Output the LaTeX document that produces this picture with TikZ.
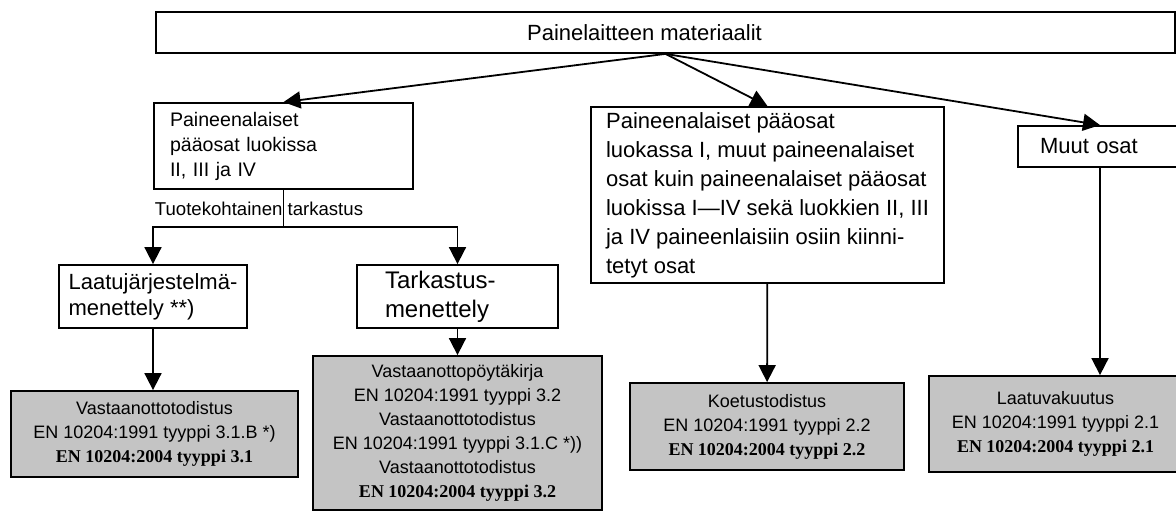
\documentclass[tikz,border=0pt]{standalone}
\usepackage{fontspec}
\setmainfont{Liberation Sans}
\newfontfamily\timesfont{Liberation Serif}
\usetikzlibrary{arrows.meta}
\definecolor{certgrey}{RGB}{196,196,196}
\newcommand{\ENnew}[1]{{\timesfont\bfseries EN 10204:2004 tyyppi #1}}

\tikzset{
  plainbox/.style={draw, line width=0.9pt, inner ysep=0pt},
  certbox/.style={plainbox, fill=certgrey, align=center, font=\fontsize{9}{12}\selectfont},
  arr/.style={line width=0.9pt, -{Triangle[length=8.5pt,width=8.5pt]}},
}

\begin{document}
\begin{tikzpicture}[x=0.5pt,y=-0.5pt]
            \useasboundingbox (0,0) rectangle (1176,522);
            % laatikot
            \node[plainbox, minimum width=509.5pt, minimum height=20.5pt, font=\fontsize{11}{13}\selectfont] (top) at (665.5,32.5) {Painelaitteen materiaalit\hspace*{21pt}};
            \node[plainbox, text width=113.5pt, inner xsep=8pt, minimum height=43pt, align=left, font=\fontsize{9.8}{12.5}\selectfont] (paaosat) at (283.5,146) {Paineenalaiset\\pääosat luokissa\\II, III ja IV};
            \node[plainbox, minimum width=176.5pt, minimum height=88pt, inner xsep=4pt, align=left, font=\fontsize{11}{14.5}\selectfont] (muutpaine) at (767.5,195) {Paineenalaiset pääosat\\luokassa I, muut paineenalaiset\\osat kuin paineenalaiset pääosat\\luokissa I—IV sekä luokkien II, III\\ja IV paineenlaisiin osiin kiinni-\\tetyt osat};
            \node[plainbox, text width=60pt, inner xsep=11pt, minimum height=20.5pt, align=left, font=\fontsize{11}{13}\selectfont] (muut) at (1100,146.5) {Muut osat};
            \node[plainbox, minimum width=94pt, minimum height=31.5pt, align=left, font=\fontsize{11}{13}\selectfont] (laatu) at (153,296.5) {Laatujärjestelmä-\\menettely **)};
            \node[plainbox, text width=72.5pt, inner xsep=14pt, minimum height=31.5pt, align=left, font=\fontsize{12}{14.5}\selectfont] (tarkastus) at (457.5,296.5) {Tarkastus-\\menettely};
            % todistukset
            \node[certbox, minimum width=143.5pt, minimum height=43pt] (todistus) at (154.5,434) {Vastaanottotodistus\\EN 10204:1991 tyyppi 3.1.B *)\\\ENnew{3.1}};
            \node[certbox, minimum width=144.5pt, minimum height=77pt] (poytakirja) at (457.5,433) {Vastaanottopöytäkirja\\EN 10204:1991 tyyppi 3.2\\Vastaanottotodistus\\EN 10204:1991 tyyppi 3.1.C *))\\Vastaanottotodistus\\\ENnew{3.2}};
            \node[certbox, minimum width=137pt, minimum height=43.5pt] (koetus) at (767,426.5) {Koetustodistus\\EN 10204:1991 tyyppi 2.2\\\ENnew{2.2}};
            \node[certbox, minimum width=126.5pt, minimum height=48pt] (vakuutus) at (1055.5,424) {Laatuvakuutus\\EN 10204:1991 tyyppi 2.1\\\ENnew{2.1}};
            \node[inner sep=0pt, font=\fontsize{9.3}{11}\selectfont] (tuote) at (259,209) {Tuotekohtainen tarkastus};
            % nuolet
            \draw[arr] (top.south) -- (paaosat.north);
            \draw[arr] (top.south) -- (muutpaine.north);
            \draw[arr] (top.south) -- (muut.north);
            \coordinate (haara) at (paaosat.south |- 0,227);
            \draw[line width=0.9pt] (paaosat.south) -- (haara);
            \draw[arr] (haara) -| (laatu.north);
            \draw[arr] (haara) -| (tarkastus.north);
            \draw[arr] (laatu.south) -- (laatu.south |- todistus.north);
            \draw[arr] (tarkastus) -- (poytakirja);
            \draw[arr] (muutpaine) -- (koetus);
            \draw[arr] (muut.south) -- (muut.south |- vakuutus.north);
        \end{tikzpicture}
\end{document}
